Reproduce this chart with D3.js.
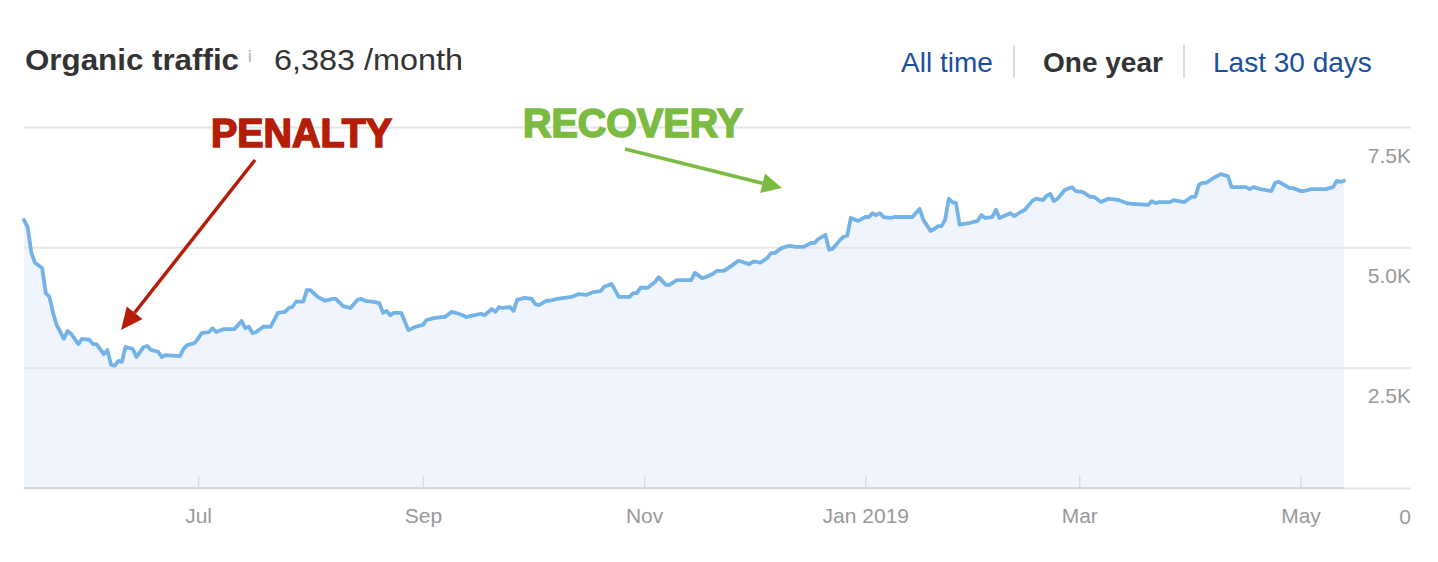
<!DOCTYPE html>
<html>
<head>
<meta charset="utf-8">
<script src="https://cdn.jsdelivr.net/npm/d3@7"></script>
<style>
  html, body { margin: 0; padding: 0; background: #fff; }
  svg { display: block; font-family: "Liberation Sans", Arial, Helvetica, sans-serif; }
</style>
</head>
<body>
<svg id="chart" width="1438" height="562"></svg>
<script>
// ---- data ----
const dates = [
"2018-05-14","2018-05-15","2018-05-16","2018-05-17","2018-05-19","2018-05-20","2018-05-21","2018-05-22","2018-05-23","2018-05-25",
"2018-05-26","2018-05-27","2018-05-29","2018-05-30","2018-06-01","2018-06-02","2018-06-03","2018-06-05","2018-06-06","2018-06-07",
"2018-06-08","2018-06-09","2018-06-10","2018-06-11","2018-06-13","2018-06-14","2018-06-16","2018-06-17","2018-06-18","2018-06-20",
"2018-06-21","2018-06-22","2018-06-26","2018-06-27","2018-06-28","2018-06-30","2018-07-01","2018-07-02","2018-07-04","2018-07-05",
"2018-07-06","2018-07-08","2018-07-09","2018-07-11","2018-07-13","2018-07-14","2018-07-15","2018-07-16","2018-07-17","2018-07-19",
"2018-07-21","2018-07-23","2018-07-25","2018-07-26","2018-07-27","2018-07-28","2018-07-30","2018-07-31","2018-08-01","2018-08-03",
"2018-08-05","2018-08-07","2018-08-08","2018-08-10","2018-08-12","2018-08-14","2018-08-15","2018-08-16","2018-08-18","2018-08-20",
"2018-08-21","2018-08-22","2018-08-23","2018-08-24","2018-08-26","2018-08-28","2018-08-30","2018-09-01","2018-09-02","2018-09-04",
"2018-09-06","2018-09-07","2018-09-09","2018-09-10","2018-09-12","2018-09-13","2018-09-14","2018-09-17","2018-09-18","2018-09-20",
"2018-09-21","2018-09-22","2018-09-23","2018-09-25","2018-09-26","2018-09-27","2018-09-29","2018-10-01","2018-10-02","2018-10-03",
"2018-10-05","2018-10-06","2018-10-08","2018-10-10","2018-10-12","2018-10-14","2018-10-16","2018-10-18","2018-10-20","2018-10-21",
"2018-10-23","2018-10-24","2018-10-25","2018-10-28","2018-10-29","2018-10-30","2018-10-31","2018-11-02","2018-11-04","2018-11-05",
"2018-11-07","2018-11-08","2018-11-10","2018-11-14","2018-11-15","2018-11-17","2018-11-18","2018-11-20","2018-11-21","2018-11-23",
"2018-11-25","2018-11-27","2018-11-28","2018-11-30","2018-12-01","2018-12-02","2018-12-03","2018-12-05","2018-12-06","2018-12-07",
"2018-12-09","2018-12-10","2018-12-11","2018-12-13","2018-12-15","2018-12-17","2018-12-18","2018-12-19","2018-12-21","2018-12-22",
"2018-12-23","2018-12-25","2018-12-26","2018-12-27","2018-12-28","2018-12-30","2019-01-01","2019-01-02","2019-01-03","2019-01-04",
"2019-01-05","2019-01-06","2019-01-08","2019-01-09","2019-01-14","2019-01-16","2019-01-17","2019-01-19","2019-01-20","2019-01-21",
"2019-01-22","2019-01-23","2019-01-24","2019-01-25","2019-01-26","2019-01-27","2019-01-30","2019-02-01","2019-02-02","2019-02-03",
"2019-02-05","2019-02-06","2019-02-07","2019-02-10","2019-02-11","2019-02-13","2019-02-14","2019-02-16","2019-02-17","2019-02-19",
"2019-02-20","2019-02-21","2019-02-22","2019-02-23","2019-02-25","2019-02-27","2019-02-28","2019-03-02","2019-03-04","2019-03-05",
"2019-03-07","2019-03-09","2019-03-12","2019-03-14","2019-03-16","2019-03-20","2019-03-21","2019-03-22","2019-03-23","2019-03-26",
"2019-03-27","2019-03-30","2019-04-01","2019-04-02","2019-04-03","2019-04-04","2019-04-05","2019-04-07","2019-04-09","2019-04-11",
"2019-04-12","2019-04-14","2019-04-16","2019-04-17","2019-04-18","2019-04-20","2019-04-23","2019-04-24","2019-04-25","2019-04-26",
"2019-04-28","2019-04-29","2019-05-01","2019-05-02","2019-05-04","2019-05-06","2019-05-08","2019-05-10","2019-05-11","2019-05-12",
"2019-05-13"
];
const traffic = [
5570,5420,4900,4680,4570,4050,3970,3640,3390,3100,
3260,3200,2990,3100,3080,2990,2990,2780,2870,2560,
2540,2640,2620,2930,2890,2720,2930,2950,2870,2830,
2720,2760,2740,2890,2970,3010,3100,3220,3240,3320,
3240,3300,3300,3300,3470,3320,3350,3220,3240,3350,
3350,3640,3660,3740,3760,3870,3870,4110,4110,3970,
3890,3930,3930,3780,3740,3910,3930,3890,3870,3840,
3640,3680,3590,3640,3640,3280,3350,3390,3490,3530,
3550,3550,3660,3640,3590,3550,3570,3620,3590,3720,
3660,3760,3740,3760,3680,3910,3950,3930,3820,3800,
3890,3890,3930,3950,3970,4030,4010,4070,4090,4180,
4240,4110,3970,3970,4050,4050,4160,4160,4280,4380,
4220,4220,4320,4320,4470,4360,4380,4450,4510,4510,
4610,4720,4700,4650,4700,4700,4680,4780,4880,4880,
4990,5010,5030,5010,5010,5090,5090,5170,5260,4950,
4970,5150,5220,5240,5610,5550,5630,5630,5710,5670,
5710,5630,5610,5630,5630,5800,5570,5340,5380,5440,
5440,5570,6010,5940,5920,5470,5510,5550,5670,5610,
5630,5780,5610,5710,5650,5740,5780,5960,6010,5980,
6070,6110,5960,6010,6190,6250,6170,6150,6050,6050,
5940,6010,5980,5920,5900,5880,5960,5920,5940,5940,
5980,5940,6050,6050,6300,6340,6340,6440,6520,6480,
6250,6250,6250,6210,6250,6210,6170,6340,6360,6320,
6230,6230,6170,6170,6210,6210,6210,6250,6380,6360,
6383
];
const xTickDates = ["2018-07-01","2018-09-01","2018-11-01","2019-01-01","2019-03-01","2019-05-01"];
const xTickLabels = ["Jul","Sep","Nov","Jan 2019","Mar","May"];
const yTickValues = [0, 2500, 5000, 7500];
const yTickLabels = ["0", "2.5K", "5.0K", "7.5K"];
const headerTitle = "Organic traffic";
const headerValue = "6,383 /month";
const navItems = ["All time", "One year", "Last 30 days"];
const annotations = ["PENALTY", "RECOVERY"];

// ---- layout ----
const parse = d3.timeParse("%Y-%m-%d");
const data = dates.map((d, i) => ({ date: parse(d), value: traffic[i] }));
const svg = d3.select("#chart");

const plotLeft = 24, plotRight = 1344, gridRight = 1411;
const x = d3.scaleTime()
  .domain([parse(dates[0]), parse(dates[dates.length - 1])])
  .range([plotLeft, plotRight]);
const y = d3.scaleLinear().domain([0, 7500]).range([488, 127]);

// area fill
const area = d3.area()
  .x(d => x(d.date)).y0(y(0)).y1(d => y(d.value));
svg.append("path").datum(data)
  .attr("d", area).attr("fill", "#f0f5fd");

// gridlines
const gridAxis = d3.axisLeft(y).tickValues(yTickValues)
  .tickSize(gridRight - plotLeft).tickFormat("");
const gg = svg.append("g").attr("transform", `translate(${gridRight},0)`).call(gridAxis);
gg.select(".domain").remove();
gg.selectAll(".tick line").attr("stroke", "#e6e6e6").attr("stroke-width", 2);

// y labels
const yLabAxis = d3.axisRight(y).tickValues(yTickValues).tickSize(0)
  .tickFormat(d => yTickLabels[yTickValues.indexOf(d)]);
const yl = svg.append("g").attr("transform", `translate(${gridRight},0)`).call(yLabAxis);
yl.select(".domain").remove();
yl.selectAll(".tick text")
  .attr("x", 0).attr("dy", 35).attr("text-anchor", "end")
  .attr("fill", "#999").style("font-size", "21px")
  .style("font-family", "'Liberation Sans', Arial, sans-serif");

// x axis
const xTicks = xTickDates.map(parse);
const xAxis = d3.axisBottom(x).tickValues(xTicks).tickSize(-12).tickPadding(20)
  .tickFormat((d, i) => xTickLabels[i]);
const xg = svg.append("g").attr("transform", `translate(0,${y(0)})`).call(xAxis);
xg.select(".domain").attr("d", `M${plotLeft},0H${plotRight}`)
  .attr("stroke", "#d6d6d6").attr("stroke-width", 2);
xg.selectAll(".tick line").attr("stroke", "#dcdcdc").attr("stroke-width", 1.5).attr("y1", -1);
xg.selectAll(".tick text").attr("fill", "#999").style("font-size", "21px")
  .style("font-family", "'Liberation Sans', Arial, sans-serif");

// line
const line = d3.line().x(d => x(d.date)).y(d => y(d.value));
svg.append("path").datum(data)
  .attr("d", line).attr("fill", "none")
  .attr("stroke", "#74b3e7").attr("stroke-width", 3.8)
  .attr("stroke-linejoin", "round").attr("stroke-linecap", "round");

// header
svg.append("text").attr("x", 25).attr("y", 70)
  .attr("font-weight", "bold").attr("font-size", 29).attr("fill", "#333")
  .attr("textLength", 214).attr("lengthAdjust", "spacingAndGlyphs")
  .text(headerTitle);
svg.append("text").attr("x", 248).attr("y", 62)
  .attr("font-size", 16).attr("fill", "#aaa").text("i");
svg.append("text").attr("x", 274).attr("y", 70)
  .attr("font-size", 29).attr("fill", "#333")
  .attr("textLength", 189).attr("lengthAdjust", "spacingAndGlyphs")
  .text(headerValue);

const navX = [901, 1043, 1213];
navItems.forEach((t, i) => {
  svg.append("text").attr("x", navX[i]).attr("y", 72)
    .attr("font-size", 28)
    .attr("font-weight", i === 1 ? "bold" : "normal")
    .attr("fill", i === 1 ? "#333" : "#1a4f9e")
    .text(t);
});
[1014, 1184].forEach(sx => {
  svg.append("line").attr("x1", sx).attr("x2", sx).attr("y1", 45).attr("y2", 78)
    .attr("stroke", "#dddddd").attr("stroke-width", 2);
});

// annotations
const red = "#b51d08", green = "#7bbb41";
svg.append("text").attr("x", 211).attr("y", 147)
  .attr("font-size", 40).attr("font-weight", 900).attr("fill", red)
  .attr("stroke", red).attr("stroke-width", 1.6)
  .attr("textLength", 181).attr("lengthAdjust", "spacingAndGlyphs")
  .text(annotations[0]);
svg.append("text").attr("x", 523).attr("y", 137)
  .attr("font-size", 40).attr("font-weight", 900).attr("fill", green)
  .attr("stroke", green).attr("stroke-width", 1.6)
  .attr("textLength", 220).attr("lengthAdjust", "spacingAndGlyphs")
  .text(annotations[1]);

function arrow(x1, y1, x2, y2, color, headLen, headW) {
  const ang = Math.atan2(y2 - y1, x2 - x1);
  const bx = x2 - headLen * Math.cos(ang), by = y2 - headLen * Math.sin(ang);
  svg.append("line").attr("x1", x1).attr("y1", y1).attr("x2", bx).attr("y2", by)
    .attr("stroke", color).attr("stroke-width", 3.5);
  const px = -Math.sin(ang) * headW / 2, py = Math.cos(ang) * headW / 2;
  svg.append("path")
    .attr("d", `M${x2},${y2}L${bx + px},${by + py}L${bx - px},${by - py}Z`)
    .attr("fill", color);
}
arrow(255, 160, 121, 330, red, 22, 20);
arrow(625, 149, 782, 188, green, 20, 20);
</script>
</body>
</html>
